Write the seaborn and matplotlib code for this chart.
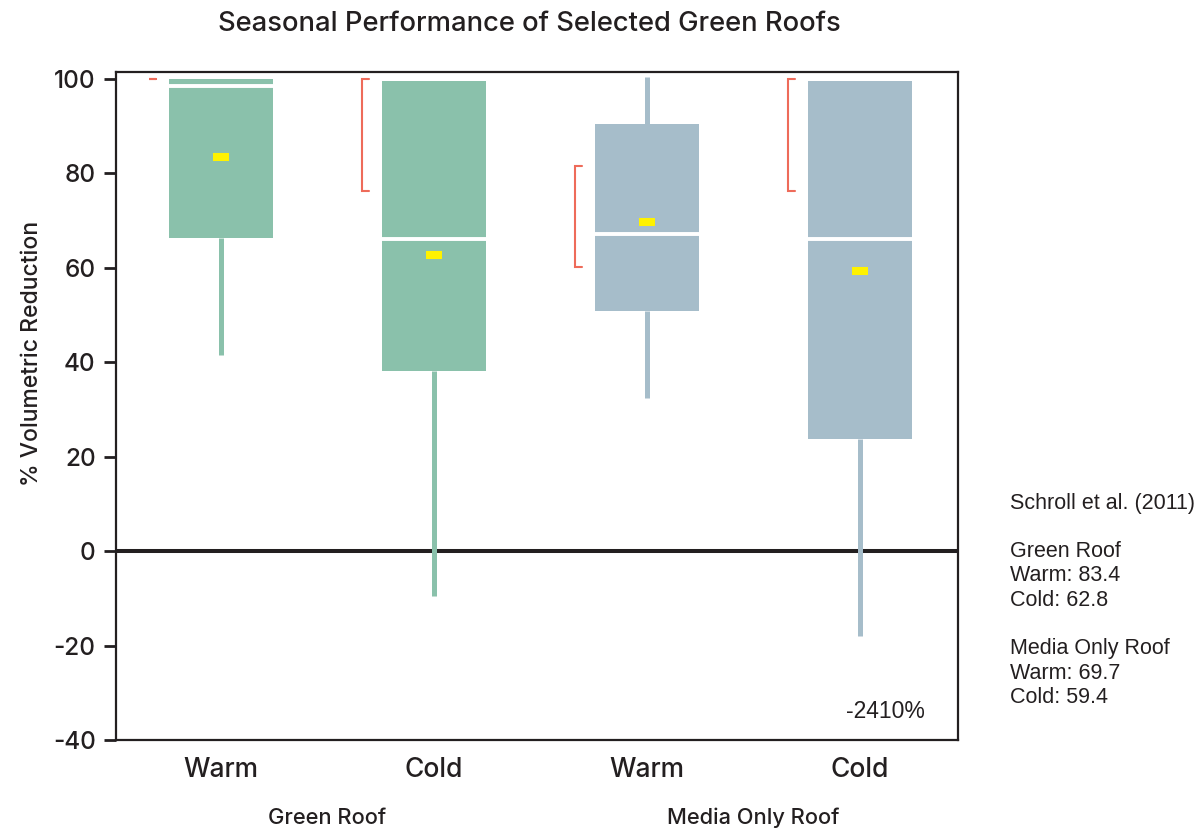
import matplotlib
matplotlib.use("Agg")
import matplotlib.pyplot as plt
import matplotlib.transforms as mtransforms
import numpy as np
import pandas as pd
import seaborn as sns

# five-number summaries: low whisker, q1, median, q3, high whisker
slots = ["gr_warm", "gr_cold", "mo_warm", "mo_cold"]
roofs = ["Green Roof", "Green Roof", "Media Only Roof", "Media Only Roof"]
seasons = ["Warm", "Cold", "Warm", "Cold"]
whis_lo = [41.5, -9.5, 32.4, -18.0]
q1 = [66.3, 38.1, 50.8, 23.7]
median = [98.5, 66.1, 67.2, 66.1]
q3 = [100.0, 99.6, 90.5, 99.6]
whis_hi = [100.0, 99.6, 100.4, 99.6]
means = [83.4, 62.8, 69.7, 59.4]
ci_lo = [100.0, 76.3, 60.2, 76.3]
ci_hi = [100.0, 100.0, 81.6, 100.0]
yticks = [-40, -20, 0, 20, 40, 60, 80, 100]

note_lines = [
    "Schroll et al. (2011)",
    "",
    "Green Roof",
    "Warm: 83.4",
    "Cold: 62.8",
    "",
    "Media Only Roof",
    "Warm: 69.7",
    "Cold: 59.4",
]

GREEN = "#8AC1AB"
BLUE = "#A6BDCA"
YELLOW = "#FFF200"
RED = "#EE6B5A"
INK = "#231F20"

rows = []
for i, s in enumerate(slots):
    for v in (whis_lo[i], q1[i], median[i], q3[i], whis_hi[i]):
        rows.append({"slot": s, "roof": roofs[i], "value": v})
df = pd.DataFrame(rows)

sns.set_style("white")
plt.rcParams["font.family"] = ["Inter", "Liberation Sans", "DejaVu Sans"]
plt.rcParams["font.weight"] = 500
plt.rcParams["axes.titleweight"] = 500
plt.rcParams["axes.labelweight"] = 500
NARROW = ["Liberation Sans Narrow", "Liberation Sans", "DejaVu Sans"]

fig = plt.figure(figsize=(11.99, 8.30), dpi=100)
ax = fig.add_axes([0.0967, 0.1084, 0.7023, 0.8049])

for roof, col in [("Green Roof", GREEN), ("Media Only Roof", BLUE)]:
    sns.boxplot(
        data=df[df["roof"] == roof],
        x="slot",
        y="value",
        order=slots,
        color=col,
        linecolor=col,
        saturation=1,
        width=0.49,
        whis=(0, 100),
        fliersize=0,
        boxprops=dict(linewidth=0),
        medianprops=dict(color="white", linewidth=2.8, solid_capstyle="butt"),
        whiskerprops=dict(color=col, linewidth=3.6, solid_capstyle="butt"),
        capprops=dict(linewidth=0),
        ax=ax,
    )

pos = np.arange(len(slots))
ax.axhline(0, color=INK, lw=2.9, zorder=1)

# mean markers
ax.plot(pos, means, ls="none", marker="_", ms=11, mew=5.8, color=YELLOW, zorder=5)

# red brackets to the left of each box
off, tick = -0.34, 0.035
for x, lo, hi in zip(pos, ci_lo, ci_hi):
    xb = x + off
    ax.plot([xb + tick, xb, xb, xb + tick], [lo, lo, hi, hi], color=RED, lw=1.5,
            solid_joinstyle="miter", zorder=4)

ax.set_xlim(-0.493, 3.46)
ax.set_ylim(-40, 101.5)
ax.set_yticks(yticks)
ax.set_yticklabels([str(t) for t in yticks])
ax.set_xticks(pos)
ax.set_xticklabels(seasons)
ax.tick_params(axis="y", direction="out", length=8.6, width=2, color=INK,
               labelsize=17.5, labelcolor=INK, pad=6, left=True)
ax.tick_params(axis="x", length=0, labelsize=19, labelcolor=INK, pad=12)

for side in ["left", "bottom", "top", "right"]:
    ax.spines[side].set_visible(True)
    ax.spines[side].set_color(INK)
    ax.spines[side].set_linewidth(1.6)

ax.set_xlabel("")
ax.set_ylabel("% Volumetric Reduction", fontsize=16.5, color=INK, fontweight=500)
ax.yaxis.set_label_coords(-0.087, 0.578)

ax.set_title("Seasonal Performance of Selected Green Roofs", fontsize=19.7,
             color=INK, pad=0, x=(529 - 116) / 842, y=(740 - 24) / 668,
             va="center", fontweight=500)

# group labels under the season labels
trans = mtransforms.blended_transform_factory(ax.transData, fig.transFigure)
for x, name in [(0.5, "Green Roof"), (2.5, "Media Only Roof")]:
    ax.text(x, 1 - 818 / 830, name, transform=trans, ha="center", va="center",
            fontsize=15.7, color=INK, fontweight=500)

ax.text(3.12, -34, "-2410%", ha="center", va="center", fontsize=16.5,
        family=NARROW, weight="normal", color=INK)

for i, line in enumerate(note_lines):
    if line:
        fig.text(1010 / 1199, 1 - (503 + 24.3 * i) / 830, line, ha="left",
                 va="center", fontsize=15.5, family=NARROW, weight="normal",
                 color=INK)

fig.savefig("out.png", dpi=100)
